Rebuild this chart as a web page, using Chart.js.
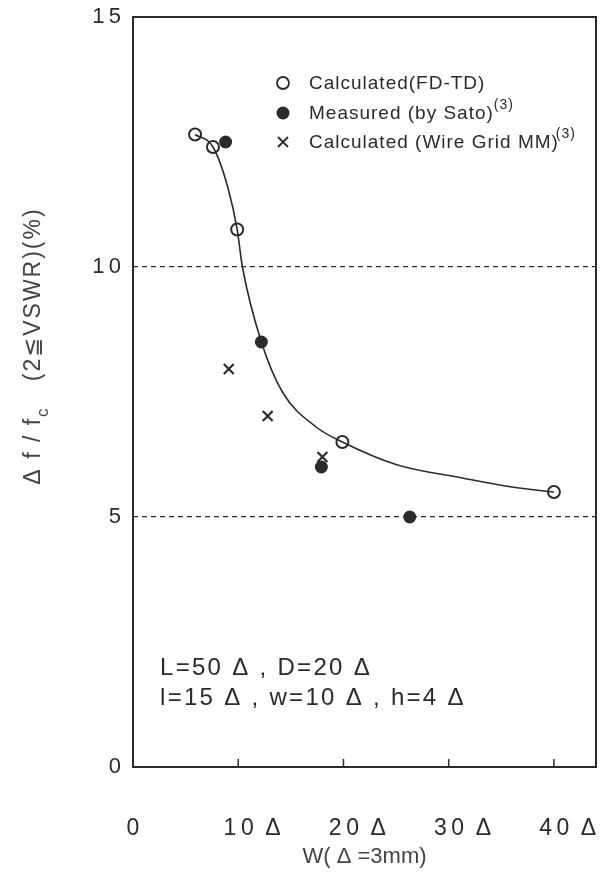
<!DOCTYPE html>
<html>
<head>
<meta charset="utf-8">
<script src="https://cdn.jsdelivr.net/npm/chart.js@4.4.1/dist/chart.umd.min.js"></script>
<style>
  html, body { margin: 0; padding: 0; background: #fff; }
  #wrap { width: 601px; height: 872px; }
</style>
</head>
<body>
<div id="wrap"><canvas id="chart" width="601" height="872"></canvas></div>
<script>
// values
const fdtdX = [5.9, 7.6, 9.9, 19.9, 40];
const fdtdY = [12.65, 12.4, 10.75, 6.5, 5.5];
const satoX = [8.8, 12.2, 17.9, 26.3];
const satoY = [12.5, 8.5, 6.0, 5.0];
const wireX = [9.1, 12.8, 18.0];
const wireY = [7.96, 7.02, 6.2];
// fitted curve
const curveX = [5.9, 7.6, 9.0, 9.9, 10.4, 12.2, 14.2, 17.4, 19.9, 25, 31.3, 36, 40];
const curveY = [12.65, 12.4, 11.6, 10.75, 10.0, 8.5, 7.5, 6.8, 6.5, 6.05, 5.78, 5.6, 5.5];
const xTicks = [0, 10, 20, 30, 40];
const yTicks = [0, 5, 10, 15];

const ink = '#2b2b2b';
const font = 'Liberation Sans, Arial, sans-serif';

function pts(xs, ys) {
    return xs.map((x, i) => ({ x: x, y: ys[i] }));
}

// spread digits a little, like the old typeset labels
function spaced(v) {
    return String(v).split('').join('\u2009');
}

const extras = {
    id: 'extras',
    afterDraw(chart) {
        const ctx = chart.ctx;
        const a = chart.chartArea;
        const xs = chart.scales.x;
        ctx.save();
        // frame
        ctx.strokeStyle = ink;
        ctx.lineWidth = 2;
        ctx.strokeRect(a.left, a.top, a.right - a.left, a.bottom - a.top);
        // inside ticks on x axis
        ctx.lineWidth = 1.5;
        [10, 20, 30, 40].forEach(v => {
            const px = xs.getPixelForValue(v);
            ctx.beginPath();
            ctx.moveTo(px, a.bottom);
            ctx.lineTo(px, a.bottom - 8);
            ctx.stroke();
        });

        // legend
        ctx.fillStyle = ink;
        ctx.textBaseline = 'middle';
        ctx.letterSpacing = '1px';
        const lx = 283, tx = 309;
        ctx.lineWidth = 1.8;
        ctx.beginPath();
        ctx.arc(lx, 83, 6, 0, Math.PI * 2);
        ctx.fillStyle = '#fff';
        ctx.fill();
        ctx.stroke();
        ctx.fillStyle = ink;
        ctx.font = '19px ' + font;
        ctx.fillText('Calculated(FD-TD)', tx, 84);
        ctx.beginPath();
        ctx.arc(lx, 113, 6.5, 0, Math.PI * 2);
        ctx.fill();
        ctx.fillText('Measured (by Sato)', tx, 114);
        let w = ctx.measureText('Measured (by Sato)').width;
        ctx.font = '14px ' + font;
        ctx.fillText('(3)', tx + w, 105);
        ctx.font = '19px ' + font;
        ctx.beginPath();
        ctx.moveTo(lx - 5, 137); ctx.lineTo(lx + 5, 147);
        ctx.moveTo(lx + 5, 137); ctx.lineTo(lx - 5, 147);
        ctx.stroke();
        ctx.fillText('Calculated (Wire Grid MM)', tx, 143);
        w = ctx.measureText('Calculated (Wire Grid MM)').width;
        ctx.font = '14px ' + font;
        ctx.fillText('(3)', tx + w - 3, 134);

        // parameter note
        ctx.letterSpacing = '2.3px';
        ctx.font = '24px ' + font;
        ctx.fillText('L=50 \u0394 , D=20 \u0394', 160, 668);
        ctx.fillText('l=15 \u0394 , w=10 \u0394 , h=4 \u0394', 160, 698);

        // y axis title with subscript
        ctx.letterSpacing = '2px';
        ctx.fillStyle = '#444';
        ctx.translate(34, 346);
        ctx.rotate(-Math.PI / 2);
        ctx.textAlign = 'left';
        const parts = ['\u0394 f / f', 'c', '   (2\u2266VSWR)(%)'];
        ctx.font = '23px ' + font;
        const w0 = ctx.measureText(parts[0]).width;
        ctx.font = '17px ' + font;
        const w1 = ctx.measureText(parts[1]).width;
        ctx.font = '23px ' + font;
        const w2 = ctx.measureText(parts[2]).width;
        const sx = -(w0 + w1 + w2) / 2;
        ctx.fillText(parts[0], sx, 0);
        ctx.font = '17px ' + font;
        ctx.fillText(parts[1], sx + w0, 9);
        ctx.font = '23px ' + font;
        ctx.fillText(parts[2], sx + w0 + w1, 0);
        ctx.restore();
    }
};

new Chart(document.getElementById('chart'), {
    type: 'scatter',
    data: {
        datasets: [{
            type: 'line',
            label: 'curve',
            data: pts(curveX, curveY),
            borderColor: ink,
            borderWidth: 1.6,
            pointRadius: 0,
            cubicInterpolationMode: 'monotone',
            fill: false
        }, {
            label: 'Calculated(FD-TD)',
            data: pts(fdtdX, fdtdY),
            pointStyle: 'circle',
            pointRadius: 6,
            borderWidth: 2,
            borderColor: ink,
            backgroundColor: '#fff'
        }, {
            label: 'Measured (by Sato)',
            data: pts(satoX, satoY),
            pointStyle: 'circle',
            pointRadius: 6.5,
            borderWidth: 0,
            backgroundColor: ink
        }, {
            label: 'Calculated (Wire Grid MM)',
            data: pts(wireX, wireY),
            pointStyle: 'crossRot',
            pointRadius: 7,
            borderWidth: 2.2,
            borderColor: ink
        }]
    },
    options: {
        responsive: false,
        animation: false,
        layout: { autoPadding: false, padding: { top: 17, right: 5, left: 0, bottom: 0 } },
        plugins: { legend: { display: false }, tooltip: { enabled: false } },
        scales: {
            x: {
                type: 'linear',
                min: 0,
                max: 44,
                afterBuildTicks(scale) {
                    scale.ticks = xTicks.map(v => ({ value: v }));
                },
                afterFit(scale) {
                    scale.height = 105;
                    scale.paddingLeft = 0;
                    scale.paddingRight = 0;
                },
                grid: { display: false, drawTicks: false },
                border: { display: false },
                ticks: {
                    padding: 48,
                    color: ink,
                    font: { family: font, size: 23 },
                    callback: v => v === 0 ? '0' : '\u2002\u2002\u2009' + spaced(v) + '\u2002\u0394'
                },
                title: {
                    display: true,
                    text: 'W( \u0394 =3mm)',
                    color: '#444',
                    font: { family: font, size: 22 },
                    padding: { top: 0, bottom: 2 }
                }
            },
            y: {
                min: 0,
                max: 15,
                afterBuildTicks(scale) {
                    scale.ticks = yTicks.map(v => ({ value: v }));
                },
                afterFit(scale) {
                    scale.width = 133;
                    scale.paddingTop = 0;
                    scale.paddingBottom = 0;
                },
                grid: {
                    drawTicks: false,
                    color: c => (c.tick.value === 5 || c.tick.value === 10) ? ink : 'rgba(0,0,0,0)',
                    lineWidth: 1.3
                },
                border: { display: false, dash: [5, 4] },
                ticks: {
                    padding: 12,
                    color: ink,
                    font: { family: font, size: 22 },
                    callback: v => spaced(v)
                }
            }
        }
    },
    plugins: [extras]
});
</script>
</body>
</html>
